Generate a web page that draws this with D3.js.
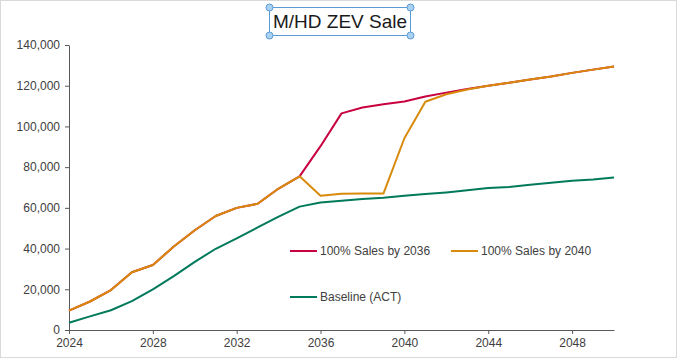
<!DOCTYPE html>
<html><head><meta charset="utf-8">
<script src="https://cdn.jsdelivr.net/npm/d3@7"></script>
<style>body{margin:0;background:#fff;}svg{display:block;font-family:"Liberation Sans",Arial,sans-serif;}</style>
</head><body>
<svg id="c" width="678" height="359"></svg>
<script>
const years = d3.range(2024, 2051);
const sales2036 = [9500,14000,19600,28400,31900,41000,49000,56000,60000,62000,69500,75500,90300,106400,109300,110900,112200,114700,116600,118400,120000,121500,123000,124500,126300,127900,129400];
const sales2040 = [9500,14000,19600,28400,31900,41000,49000,56000,60000,62000,69500,75500,66000,66900,67000,67000,94200,112100,115800,118100,120000,121500,123000,124500,126300,127900,129400];
const baseline = [3600,6700,9700,14200,20000,26500,33500,39900,45000,50400,55700,60600,62600,63500,64300,65000,66000,66800,67600,68600,69700,70300,71300,72300,73300,73900,74900];
const yTicks = [0,20000,40000,60000,80000,100000,120000,140000];
const xTicks = [2024,2028,2032,2036,2040,2044,2048];
const series = [
  {name:"100% Sales by 2036", values:sales2036, color:"#c8003f"},
  {name:"100% Sales by 2040", values:sales2040, color:"#d88a0b"},
  {name:"Baseline (ACT)", values:baseline, color:"#007a5b"}
];
const title = "M/HD ZEV Sale";

const svg = d3.select("#c");
svg.append("rect").attr("x",0.5).attr("y",0.5).attr("width",676).attr("height",357)
  .attr("fill","#fff").attr("stroke","#d9d9d9");

const x = d3.scaleLinear().domain([2024,2050]).range([69,614]);
const y = d3.scaleLinear().domain([0,140000]).range([330,45]);

const fmt = d3.format(",");
const ya = svg.append("g").attr("transform","translate(69,0)")
  .call(d3.axisLeft(y).tickValues(yTicks).tickFormat(fmt).tickSize(4).tickSizeOuter(0));
const xa = svg.append("g").attr("transform","translate(0,330)")
  .call(d3.axisBottom(x).tickValues(xTicks).tickFormat(d3.format("d")).tickSize(4).tickSizeOuter(0));
[ya,xa].forEach(a=>{
  a.selectAll("path,line").attr("stroke","#595959");
  a.selectAll("text").attr("fill","#404040").style("font-size","12px").style("font-family","'Liberation Sans',Arial,sans-serif");
});
ya.selectAll("text").attr("x",-9);
xa.selectAll("text").attr("y",8);

const line = d3.line().x((d,i)=>x(years[i])).y(d=>y(d));
[series[2], series[0], series[1]].forEach(s=>{
  svg.append("path").datum(s.values).attr("d",line)
    .attr("fill","none").attr("stroke",s.color).attr("stroke-width",2).attr("stroke-linejoin","round");
});

// legend
const leg = [
  {s:series[0], x:290, y:251},
  {s:series[1], x:451, y:251},
  {s:series[2], x:290, y:297}
];
leg.forEach(l=>{
  svg.append("line").attr("x1",l.x).attr("x2",l.x+27).attr("y1",l.y).attr("y2",l.y)
    .attr("stroke",l.s.color).attr("stroke-width",2);
  svg.append("text").attr("x",l.x+30).attr("y",l.y+4).text(l.s.name)
    .attr("fill","#404040").style("font-size","12px");
});

// title with selection box
const tg = svg.append("g");
tg.append("rect").attr("x",269.5).attr("y",7.5).attr("width",141).attr("height",28)
  .attr("fill","none").attr("stroke","#5b9bd5").attr("stroke-width",1);
tg.append("text").attr("x",340).attr("y",28).attr("text-anchor","middle")
  .style("font-size","19px").attr("fill","#1a1a1a").text(title);
[[269.5,7.5],[410.5,7.5],[269.5,35.5],[410.5,35.5]].forEach(p=>{
  tg.append("circle").attr("cx",p[0]).attr("cy",p[1]).attr("r",3.5)
    .attr("fill","#a9d2f2").attr("stroke","#5b9bd5").attr("stroke-width",1);
});
</script>
</body></html>
